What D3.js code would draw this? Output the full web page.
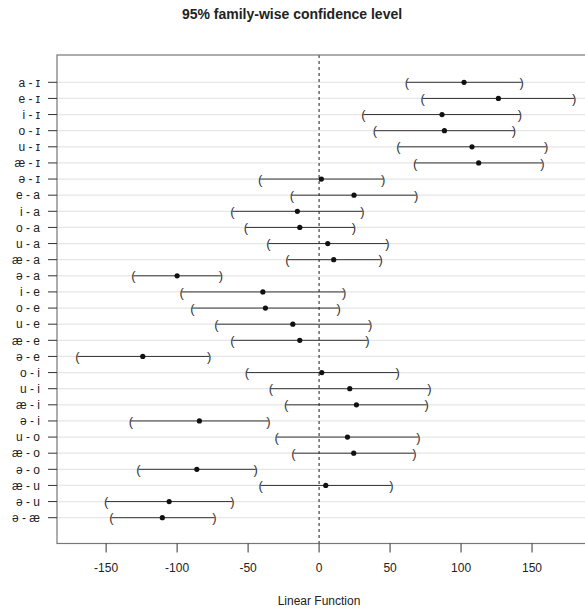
<!DOCTYPE html>
<html><head><meta charset="utf-8">
<script src="https://cdn.jsdelivr.net/npm/d3@7"></script>
<style>body{margin:0;background:#fff;}svg{display:block;font-family:"Liberation Sans",Arial,sans-serif;}</style>
</head><body>
<script>
const comparisons = ["a - ɪ","e - ɪ","i - ɪ","o - ɪ","u - ɪ","æ - ɪ","ə - ɪ","e - a","i - a","o - a","u - a","æ - a","ə - a","i - e","o - e","u - e","æ - e","ə - e","o - i","u - i","æ - i","ə - i","u - o","æ - o","ə - o","æ - u","ə - u","ə - æ"];
const estimate = [102.1,126.3,86.6,88.3,107.7,112.4,1.6,24.6,-15.3,-13.6,6.1,10.3,-100,-39.6,-37.8,-18.5,-13.6,-124.2,1.9,21.6,26.3,-84.3,20,24.4,-86.1,4.7,-105.6,-110.4];
const lower = [61.8,73,31.2,39.4,55.9,67.6,-41.5,-19.2,-61,-51.6,-35.7,-22.3,-130.8,-96.7,-89.2,-72.3,-61,-170.2,-50.9,-34,-23.2,-132.6,-29.8,-18.1,-127.2,-41.1,-150,-146.3];
const upper = [142.7,179.6,141.5,137.3,159.9,157.3,45.1,68.3,30.5,24.6,48.1,43.4,-69.2,17.6,13.8,35.9,34,-77.5,55.4,77.7,75.8,-35.7,69.9,67.1,-44.6,50.9,-61,-73.7];
const xTicks = [-150,-100,-50,0,50,100,150];

const W=585,H=611;
const svg=d3.select("body").append("svg").attr("width",W).attr("height",H);
const L=57,R=585,T=55,B=543.5;
const x=d3.scaleLinear().domain([-184.6,187.3]).range([L,R]);
const y=d3.scalePoint().domain(comparisons).range([82.3,517.7]);

// grid lines
svg.append("g").selectAll("line").data(comparisons).join("line")
  .attr("x1",L).attr("x2",R).attr("y1",d=>y(d)).attr("y2",d=>y(d))
  .attr("stroke","#e6e6e6").attr("stroke-width",1.2);

// zero line
svg.append("line").attr("x1",x(0)).attr("x2",x(0)).attr("y1",T).attr("y2",B)
  .attr("stroke","#000").attr("stroke-dasharray","3,3").attr("stroke-width",0.9);

// box
svg.append("rect").attr("x",L).attr("y",T).attr("width",R-L+5).attr("height",B-T)
  .attr("fill","none").attr("stroke","#777").attr("stroke-width",1.2);

// intervals
const g=svg.append("g");
comparisons.forEach((c,i)=>{
  const yy=y(c);
  g.append("line").attr("x1",x(lower[i])).attr("x2",x(upper[i])).attr("y1",yy).attr("y2",yy)
    .attr("stroke","#333").attr("stroke-width",1);
  g.append("text").attr("x",x(lower[i])).attr("y",yy).attr("dy","0.36em").attr("text-anchor","middle")
    .attr("font-size",13).attr("fill","#333").text("(");
  g.append("text").attr("x",x(upper[i])).attr("y",yy).attr("dy","0.36em").attr("text-anchor","middle")
    .attr("font-size",13).attr("fill","#333").text(")");
  g.append("circle").attr("cx",x(estimate[i])).attr("cy",yy).attr("r",2.6).attr("fill","#111");
});

// y axis
const ya=svg.append("g");
comparisons.forEach(c=>{
  ya.append("line").attr("x1",48).attr("x2",L).attr("y1",y(c)).attr("y2",y(c)).attr("stroke","#333");
  ya.append("text").attr("x",40).attr("y",y(c)).attr("dy","0.35em").attr("text-anchor","end")
    .attr("font-size",12).attr("fill","#222").text(c);
});

// x axis
const xa=svg.append("g");
xTicks.forEach(t=>{
  xa.append("line").attr("x1",x(t)).attr("x2",x(t)).attr("y1",B).attr("y2",B+9).attr("stroke","#333");
  xa.append("text").attr("x",x(t)).attr("y",568).attr("dy","0.35em").attr("text-anchor","middle")
    .attr("font-size",12).attr("fill","#222").text(t);
});
svg.append("text").attr("x",319).attr("y",601).attr("dy","0.35em").attr("text-anchor","middle")
  .attr("font-size",12).attr("fill","#222").text("Linear Function");
svg.append("text").attr("x",292).attr("y",14).attr("dy","0.35em").attr("text-anchor","middle")
  .attr("font-size",14).attr("font-weight","bold").attr("fill","#222").text("95% family-wise confidence level");
</script>
</body></html>
